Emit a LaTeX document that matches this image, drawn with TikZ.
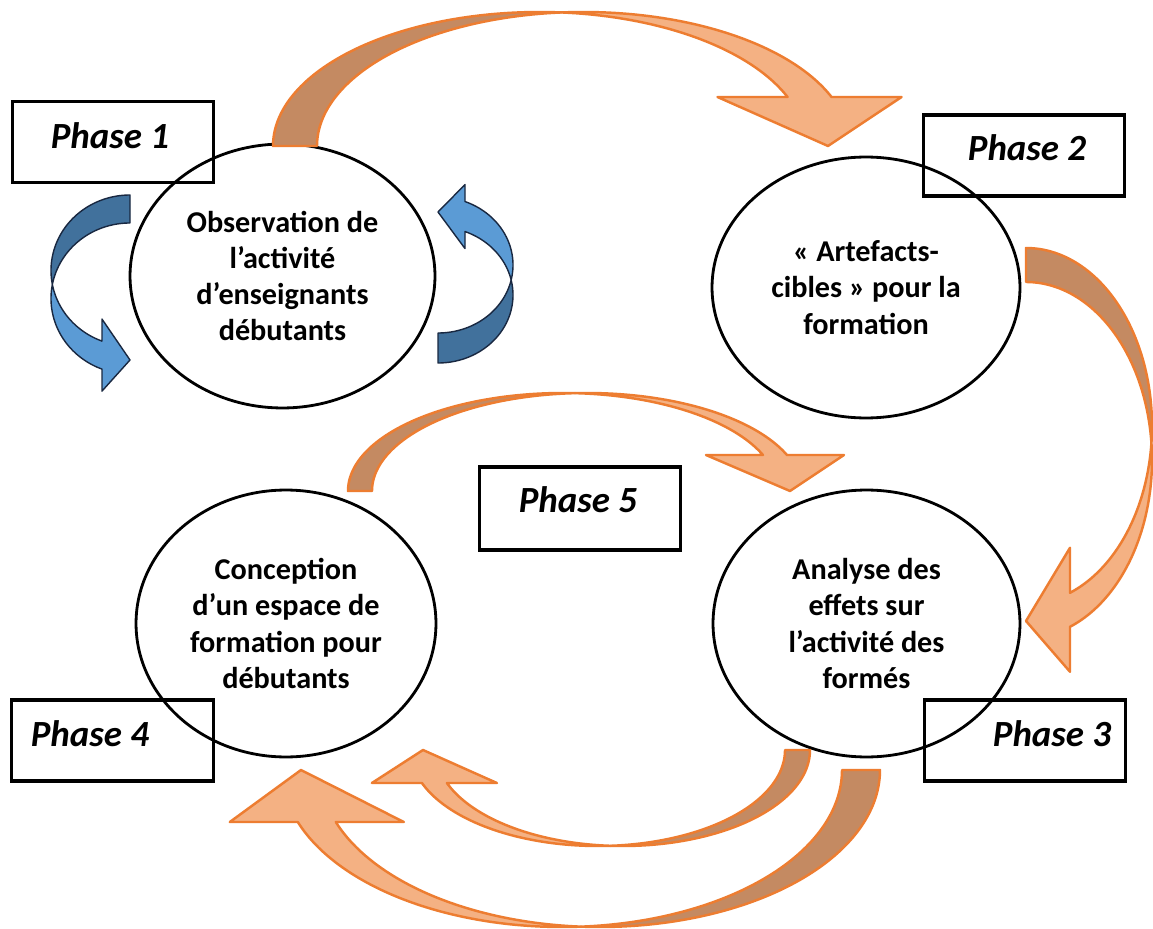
\documentclass[tikz,border=0pt]{standalone}
\usepackage{fontspec}
\setmainfont{Carlito}
\usetikzlibrary{shapes.geometric}
\definecolor{orline}{RGB}{237,125,49}
\definecolor{orlight}{RGB}{244,177,131}
\definecolor{ordark}{RGB}{196,138,98}
\definecolor{bllight}{RGB}{91,155,213}
\definecolor{bldark}{RGB}{65,113,156}
\definecolor{blline}{RGB}{25,40,65}
% curved ribbon arrow in a local frame: a, b, t, yfoot, yhead, e, dark, light
\newcommand{\ribbonarrow}[8]{%
  \pgfmathsetmacro\rA{#1}\pgfmathsetmacro\rB{#2}\pgfmathsetmacro\rT{#3}%
  \pgfmathsetmacro\rF{180-asin((#4)/(#2))}%
  \pgfmathsetmacro\rXL{acos((#3)/(2*(#1)))}%
  \pgfmathsetmacro\rXR{180-\rXL}%
  \pgfmathsetmacro\rH{asin((#5)/(#2))}%
  \pgfmathsetmacro\rHL{(#1)*cos(\rH)}%
  \filldraw[fill=#7] plot[domain=\rF:\rXL] ({\rA*cos(\x)},{\rB*sin(\x)})
     -- plot[domain=\rXR:\rF] ({\rT+\rA*cos(\x)},{\rB*sin(\x)}) -- cycle;
  \filldraw[fill=#8] plot[domain=\rXR:\rH] ({\rT+\rA*cos(\x)},{\rB*sin(\x)})
     -- ({\rT+\rHL+#6},{#5}) -- ({\rA+\rT/2},{#4}) -- ({\rHL-#6},{#5})
     -- plot[domain=\rH:\rXL] ({\rA*cos(\x)},{\rB*sin(\x)}) -- cycle;
}
\tikzset{
  phasebox/.style={draw=black, line width=1.9pt, minimum width=4.03cm, minimum height=1.62cm, inner sep=0pt},
  phasetext/.style={inner sep=0pt, font=\bfseries\itshape\fontsize{21}{25}\selectfont},
  bubble/.style={draw=black, line width=1.6pt, ellipse, inner sep=0pt, align=center,
     font=\bfseries\fontsize{17.2}{20.6}\selectfont},
  orarrow/.style={draw=orline, line width=1.4pt, line join=round},
  blarrow/.style={draw=blline, line width=0.8pt, line join=round},
}
\begin{document}
\begin{tikzpicture}[x=0.02cm, y=0.02cm, samples=80]
\useasboundingbox (0,0) rectangle (1153,-929);
\fill[white] (0,0) rectangle (1153,-929);

% phase boxes
\node[phasebox] (b1) at (113,-142) {};
\node[phasebox] (b2) at (1024,-155.5) {};
\node[phasebox, minimum height=1.66cm] (b5) at (580,-508.5) {};
\node[phasebox] (b4) at (112.5,-740.5) {};
\node[phasebox] (b3) at (1025,-740.5) {};

% ellipses
\node[bubble, minimum width=6.1cm, minimum height=5.28cm] (e1) at (282.5,-276)
  {Observation de\\l’activité\\d’enseignants\\débutants};
\node[bubble, minimum width=6.16cm, minimum height=5.22cm] (e2) at (866,-287.5)
  {« Artefacts-\\cibles » pour la\\formation};
\node[bubble, minimum width=6.0cm, minimum height=5.34cm] (e3) at (286,-623.5)
  {Conception\\d’un espace de\\formation pour\\débutants};
\node[bubble, minimum width=6.14cm, minimum height=5.34cm] (e4) at (866.5,-623.5)
  {Analyse des\\effets sur\\l’activité des\\formés};

% orange arrows
\begin{scope}[shift={(539.5,-146)}, orarrow]
  \ribbonarrow{266.5}{134}{44}{0}{49}{70}{ordark}{orlight}
\end{scope}
\begin{scope}[shift={(563,-491)}, orarrow]
  \ribbonarrow{215}{98}{24}{0}{36}{57}{ordark}{orlight}
\end{scope}
\begin{scope}[shift={(1026,-426)}, rotate=-90, orarrow]
  \ribbonarrow{178}{126}{34}{0}{44}{45}{ordark}{orlight}
\end{scope}
\begin{scope}[shift={(622.75,-750)}, rotate=180, orarrow]
  \ribbonarrow{187.25}{96}{25}{0}{33}{50}{ordark}{orlight}
\end{scope}
\begin{scope}[shift={(600,-770)}, rotate=180, orarrow]
  \ribbonarrow{280}{157}{38}{0}{52}{68}{ordark}{orlight}
\end{scope}

% blue arrows
\begin{scope}[shift={(130,-270.5)}, xscale=-1, rotate=-90, blarrow]
  \ribbonarrow{75.5}{79}{28}{0}{28}{22}{bldark}{bllight}
\end{scope}
\begin{scope}[shift={(438,-295)}, yscale=-1, rotate=-90, blarrow]
  \ribbonarrow{68}{75}{30}{0}{27}{17}{bldark}{bllight}
\end{scope}

% phase labels
\node[phasetext] (p1) at (110,-136) {Phase 1};
\node[phasetext] (p2) at (1027,-148) {Phase 2};
\node[phasetext] (p5) at (578,-500) {Phase 5};
\node[phasetext] (p4) at (90,-734) {Phase 4};
\node[phasetext] (p3) at (1052,-734) {Phase 3};
\end{tikzpicture}
\end{document}
